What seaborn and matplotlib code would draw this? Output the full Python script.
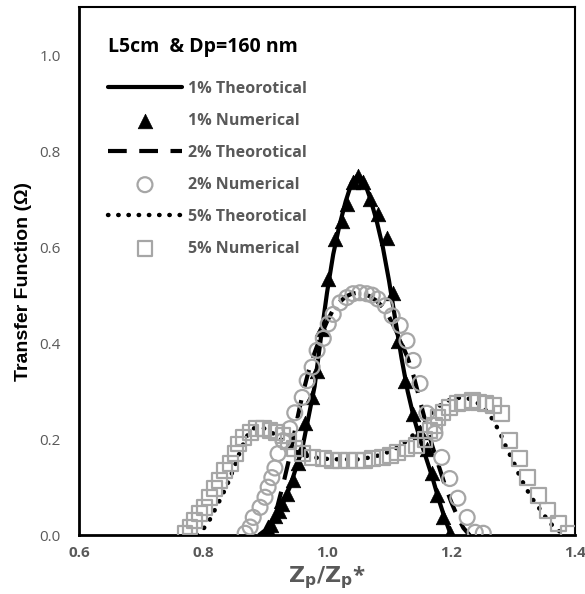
import matplotlib
matplotlib.use("Agg")
import matplotlib.pyplot as plt
import seaborn as sns
import pandas as pd
import numpy as np

# ---------------- data ----------------
x_th1 = [0.90, 0.91, 0.92, 0.93, 0.94, 0.95, 0.96, 0.97, 0.98, 0.99, 1.00, 1.01, 1.02, 1.03, 1.04, 1.05,
         1.06, 1.07, 1.08, 1.09, 1.10, 1.11, 1.12, 1.13, 1.14, 1.15, 1.16, 1.17, 1.18, 1.19, 1.20]
y_th1 = [0.0, 0.02, 0.045, 0.07, 0.10, 0.14, 0.18, 0.245, 0.31, 0.41, 0.505, 0.585, 0.645, 0.695, 0.735, 0.75,
         0.737, 0.70, 0.655, 0.60, 0.53, 0.45, 0.37, 0.30, 0.245, 0.20, 0.16, 0.12, 0.075, 0.035, 0.0]

x_num1 = [0.900, 0.905, 0.910, 0.916, 0.922, 0.928, 0.936, 0.945, 0.953, 0.960, 0.965, 0.976, 0.984, 0.992,
          1.002, 1.013, 1.024, 1.032, 1.042, 1.050, 1.058, 1.069, 1.082, 1.097, 1.106, 1.115, 1.126, 1.139,
          1.150, 1.161, 1.169, 1.177, 1.187, 1.198]
y_num1 = [0.0, 0.012, 0.022, 0.04, 0.05, 0.065, 0.085, 0.114, 0.15, 0.18, 0.233, 0.287, 0.343, 0.43,
          0.534, 0.617, 0.655, 0.69, 0.735, 0.748, 0.735, 0.70, 0.67, 0.62, 0.505, 0.405, 0.322, 0.253,
          0.215, 0.18, 0.13, 0.083, 0.037, 0.004]

x_th2 = [0.89, 0.90, 0.91, 0.92, 0.93, 0.94, 0.95, 0.96, 0.97, 0.98, 0.99, 1.00, 1.01, 1.02, 1.03, 1.04,
         1.05, 1.06, 1.07, 1.08, 1.09, 1.10, 1.11, 1.12, 1.13, 1.14, 1.15, 1.16, 1.17, 1.18, 1.19, 1.20,
         1.21, 1.22, 1.23]
y_th2 = [0.0, 0.01, 0.035, 0.06, 0.11, 0.165, 0.23, 0.29, 0.34, 0.38, 0.415, 0.445, 0.47, 0.485, 0.497, 0.503,
         0.505, 0.503, 0.497, 0.488, 0.475, 0.455, 0.43, 0.40, 0.37, 0.33, 0.28, 0.23, 0.185, 0.145, 0.105, 0.07,
         0.04, 0.015, 0.0]

x_num2 = [0.868, 0.876, 0.881, 0.892, 0.900, 0.905, 0.911, 0.916, 0.921, 0.929, 0.940, 0.948, 0.960, 0.968,
          0.976, 0.984, 0.994, 1.002, 1.010, 1.021, 1.032, 1.042, 1.053, 1.064, 1.073, 1.082, 1.094, 1.105,
          1.118, 1.129, 1.139, 1.150, 1.161, 1.174, 1.185, 1.198, 1.211, 1.226, 1.239, 1.252]
y_num2 = [0.004, 0.017, 0.037, 0.058, 0.079, 0.10, 0.12, 0.14, 0.17, 0.197, 0.222, 0.255, 0.287, 0.322,
          0.35, 0.385, 0.41, 0.44, 0.46, 0.484, 0.495, 0.503, 0.505, 0.503, 0.50, 0.492, 0.478, 0.457,
          0.437, 0.405, 0.364, 0.316, 0.254, 0.212, 0.162, 0.118, 0.077, 0.037, 0.006, 0.004]

x_th5 = [0.79, 0.80, 0.81, 0.82, 0.83, 0.84, 0.85, 0.86, 0.87, 0.88, 0.89, 0.90, 0.91, 0.92, 0.93, 0.94,
         0.95, 0.96, 0.97, 0.98, 0.99, 1.00, 1.02, 1.04, 1.05, 1.06, 1.07, 1.08, 1.09, 1.10, 1.11, 1.12,
         1.13, 1.14, 1.15, 1.16, 1.17, 1.18, 1.19, 1.20, 1.21, 1.22, 1.23, 1.24, 1.25, 1.26, 1.27, 1.28,
         1.29, 1.30, 1.31, 1.32, 1.33, 1.34, 1.35, 1.36, 1.37, 1.38, 1.385]
y_th5 = [0.0, 0.012, 0.03, 0.055, 0.08, 0.108, 0.14, 0.175, 0.205, 0.222, 0.225, 0.222, 0.215, 0.205, 0.195, 0.183,
         0.174, 0.168, 0.164, 0.162, 0.160, 0.159, 0.158, 0.158, 0.158, 0.160, 0.162, 0.165, 0.169, 0.174, 0.180, 0.188,
         0.198, 0.210, 0.225, 0.240, 0.255, 0.268, 0.277, 0.283, 0.286, 0.286, 0.284, 0.278, 0.268, 0.255, 0.235, 0.21,
         0.18, 0.155, 0.125, 0.10, 0.078, 0.06, 0.042, 0.025, 0.012, 0.004, 0.0]

x_num5 = [0.771, 0.779, 0.787, 0.795, 0.803, 0.811, 0.819, 0.827, 0.835, 0.844, 0.852, 0.857, 0.865, 0.876,
          0.887, 0.897, 0.908, 0.919, 0.929, 0.938, 0.948, 0.961, 0.977, 0.994, 1.008, 1.021, 1.034, 1.048,
          1.061, 1.074, 1.089, 1.102, 1.114, 1.129, 1.145, 1.158, 1.166, 1.174, 1.179, 1.187, 1.198, 1.210,
          1.219, 1.234, 1.244, 1.255, 1.268, 1.282, 1.295, 1.311, 1.324, 1.341, 1.356, 1.373, 1.389]
y_num5 = [0.004, 0.017, 0.031, 0.046, 0.058, 0.079, 0.098, 0.114, 0.135, 0.15, 0.17, 0.19, 0.204, 0.214,
          0.222, 0.222, 0.218, 0.214, 0.208, 0.195, 0.18, 0.17, 0.162, 0.16, 0.156, 0.156, 0.156, 0.156,
          0.156, 0.16, 0.162, 0.166, 0.172, 0.18, 0.187, 0.20, 0.218, 0.229, 0.245, 0.256, 0.266, 0.274,
          0.277, 0.281, 0.277, 0.274, 0.27, 0.253, 0.198, 0.16, 0.12, 0.083, 0.052, 0.025, 0.004]

labels = ["1% Theorotical", "1% Numerical", "2% Theorotical", "2% Numerical", "5% Theorotical", "5% Numerical"]
legend_title = "L5cm  & Dp=160 nm"
x_ticks = [0.6, 0.8, 1.0, 1.2, 1.4]
y_ticks = [0.0, 0.2, 0.4, 0.6, 0.8, 1.0]

# ---------------- plot ----------------
sns.set_style("white")
plt.rcParams['font.family'] = ['Open Sans', 'DejaVu Sans']

fig = plt.figure(figsize=(5.85, 5.94), dpi=100)
ax = fig.add_axes([0.135, 0.099, 0.848, 0.889])

GRAY_TXT = "#595959"
GRAY_MK = "#a6a6a6"

d1 = pd.DataFrame({"x": x_th1, "y": y_th1})
d2 = pd.DataFrame({"x": x_th2, "y": y_th2})
d5 = pd.DataFrame({"x": x_th5, "y": y_th5})
n1 = pd.DataFrame({"x": x_num1, "y": y_num1})
n2 = pd.DataFrame({"x": x_num2, "y": y_num2})
n5 = pd.DataFrame({"x": x_num5, "y": y_num5})

sns.lineplot(data=d1, x="x", y="y", ax=ax, color="black", lw=3, label=labels[0], sort=False, zorder=3)
sns.scatterplot(data=n1, x="x", y="y", ax=ax, marker="^", color="black", s=110, edgecolor="black",
                linewidth=0.5, label=labels[1], zorder=4)
sns.lineplot(data=d2, x="x", y="y", ax=ax, color="black", lw=3, label=labels[2], sort=False, zorder=3)
ax.lines[-1].set_dashes((4.5, 3.0))
sns.scatterplot(data=n2, x="x", y="y", ax=ax, marker="o", facecolor="none", edgecolor=GRAY_MK, s=115,
                linewidth=1.6, label=labels[3], zorder=4)
sns.lineplot(data=d5, x="x", y="y", ax=ax, color="black", lw=3.2, label=labels[4], sort=False, zorder=3)
ax.lines[-1].set_dashes((0.1, 2.2))
ax.lines[-1].set_dash_capstyle("round")
sns.scatterplot(data=n5, x="x", y="y", ax=ax, marker="s", facecolor="none", edgecolor=GRAY_MK, s=115,
                linewidth=1.6, label=labels[5], zorder=4)

ax.set_xlim(0.6, 1.4)
ax.set_ylim(0.0, 1.1)
ax.set_xticks(x_ticks)
ax.set_yticks(y_ticks)
ax.set_xticks(np.arange(0.64, 1.4, 0.04).round(2), minor=True)
ax.set_yticks(np.arange(0.04, 1.1, 0.04).round(2), minor=True)
ax.set_xticklabels([f"{v:.1f}" for v in x_ticks], fontweight="bold", color=GRAY_TXT, fontsize=11)
ax.set_yticklabels([f"{v:.1f}" for v in y_ticks], color=GRAY_TXT, fontsize=11)
ax.tick_params(axis="y", which="major", direction="out", length=5, width=1.5, color="black", pad=8)
ax.tick_params(axis="y", which="minor", direction="out", length=3, width=1.2, color="black")
ax.tick_params(axis="x", which="major", direction="inout", length=8, width=1.5, color="black", pad=4)
ax.tick_params(axis="x", which="minor", direction="inout", length=6, width=1.2, color="black")

for sp in ax.spines.values():
    sp.set_visible(True)
    sp.set_color("black")
    sp.set_linewidth(1.5)
ax.spines["left"].set_linewidth(2)
ax.spines["bottom"].set_linewidth(2)

ax.set_xlabel(r"$\mathbf{Z_p/Z_p}$*", fontsize=16, color=GRAY_TXT, fontweight="bold", labelpad=3)
ax.set_ylabel("Transfer Function (\u03a9)", fontsize=14, fontweight="bold", color="black",
              family=["Liberation Sans Narrow", "DejaVu Sans Condensed", "Liberation Sans", "DejaVu Sans"],
              labelpad=12)
ax.yaxis.set_label_coords(-0.095, 0.48)

handles, labs = ax.get_legend_handles_labels()
leg = ax.legend(handles, labs, loc="upper left", bbox_to_anchor=(0.03, 0.97), frameon=False,
                title=legend_title, handlelength=4.6, handletextpad=0.4, labelspacing=1.0,
                prop={"weight": "bold", "size": 11.5}, title_fontproperties={"weight": "bold", "size": 14})
leg._legend_box.align = "left"
leg._legend_box.sep = 17
for t in leg.get_texts():
    t.set_color(GRAY_TXT)
leg.get_title().set_color("black")

fig.savefig("out.png", dpi=100)
